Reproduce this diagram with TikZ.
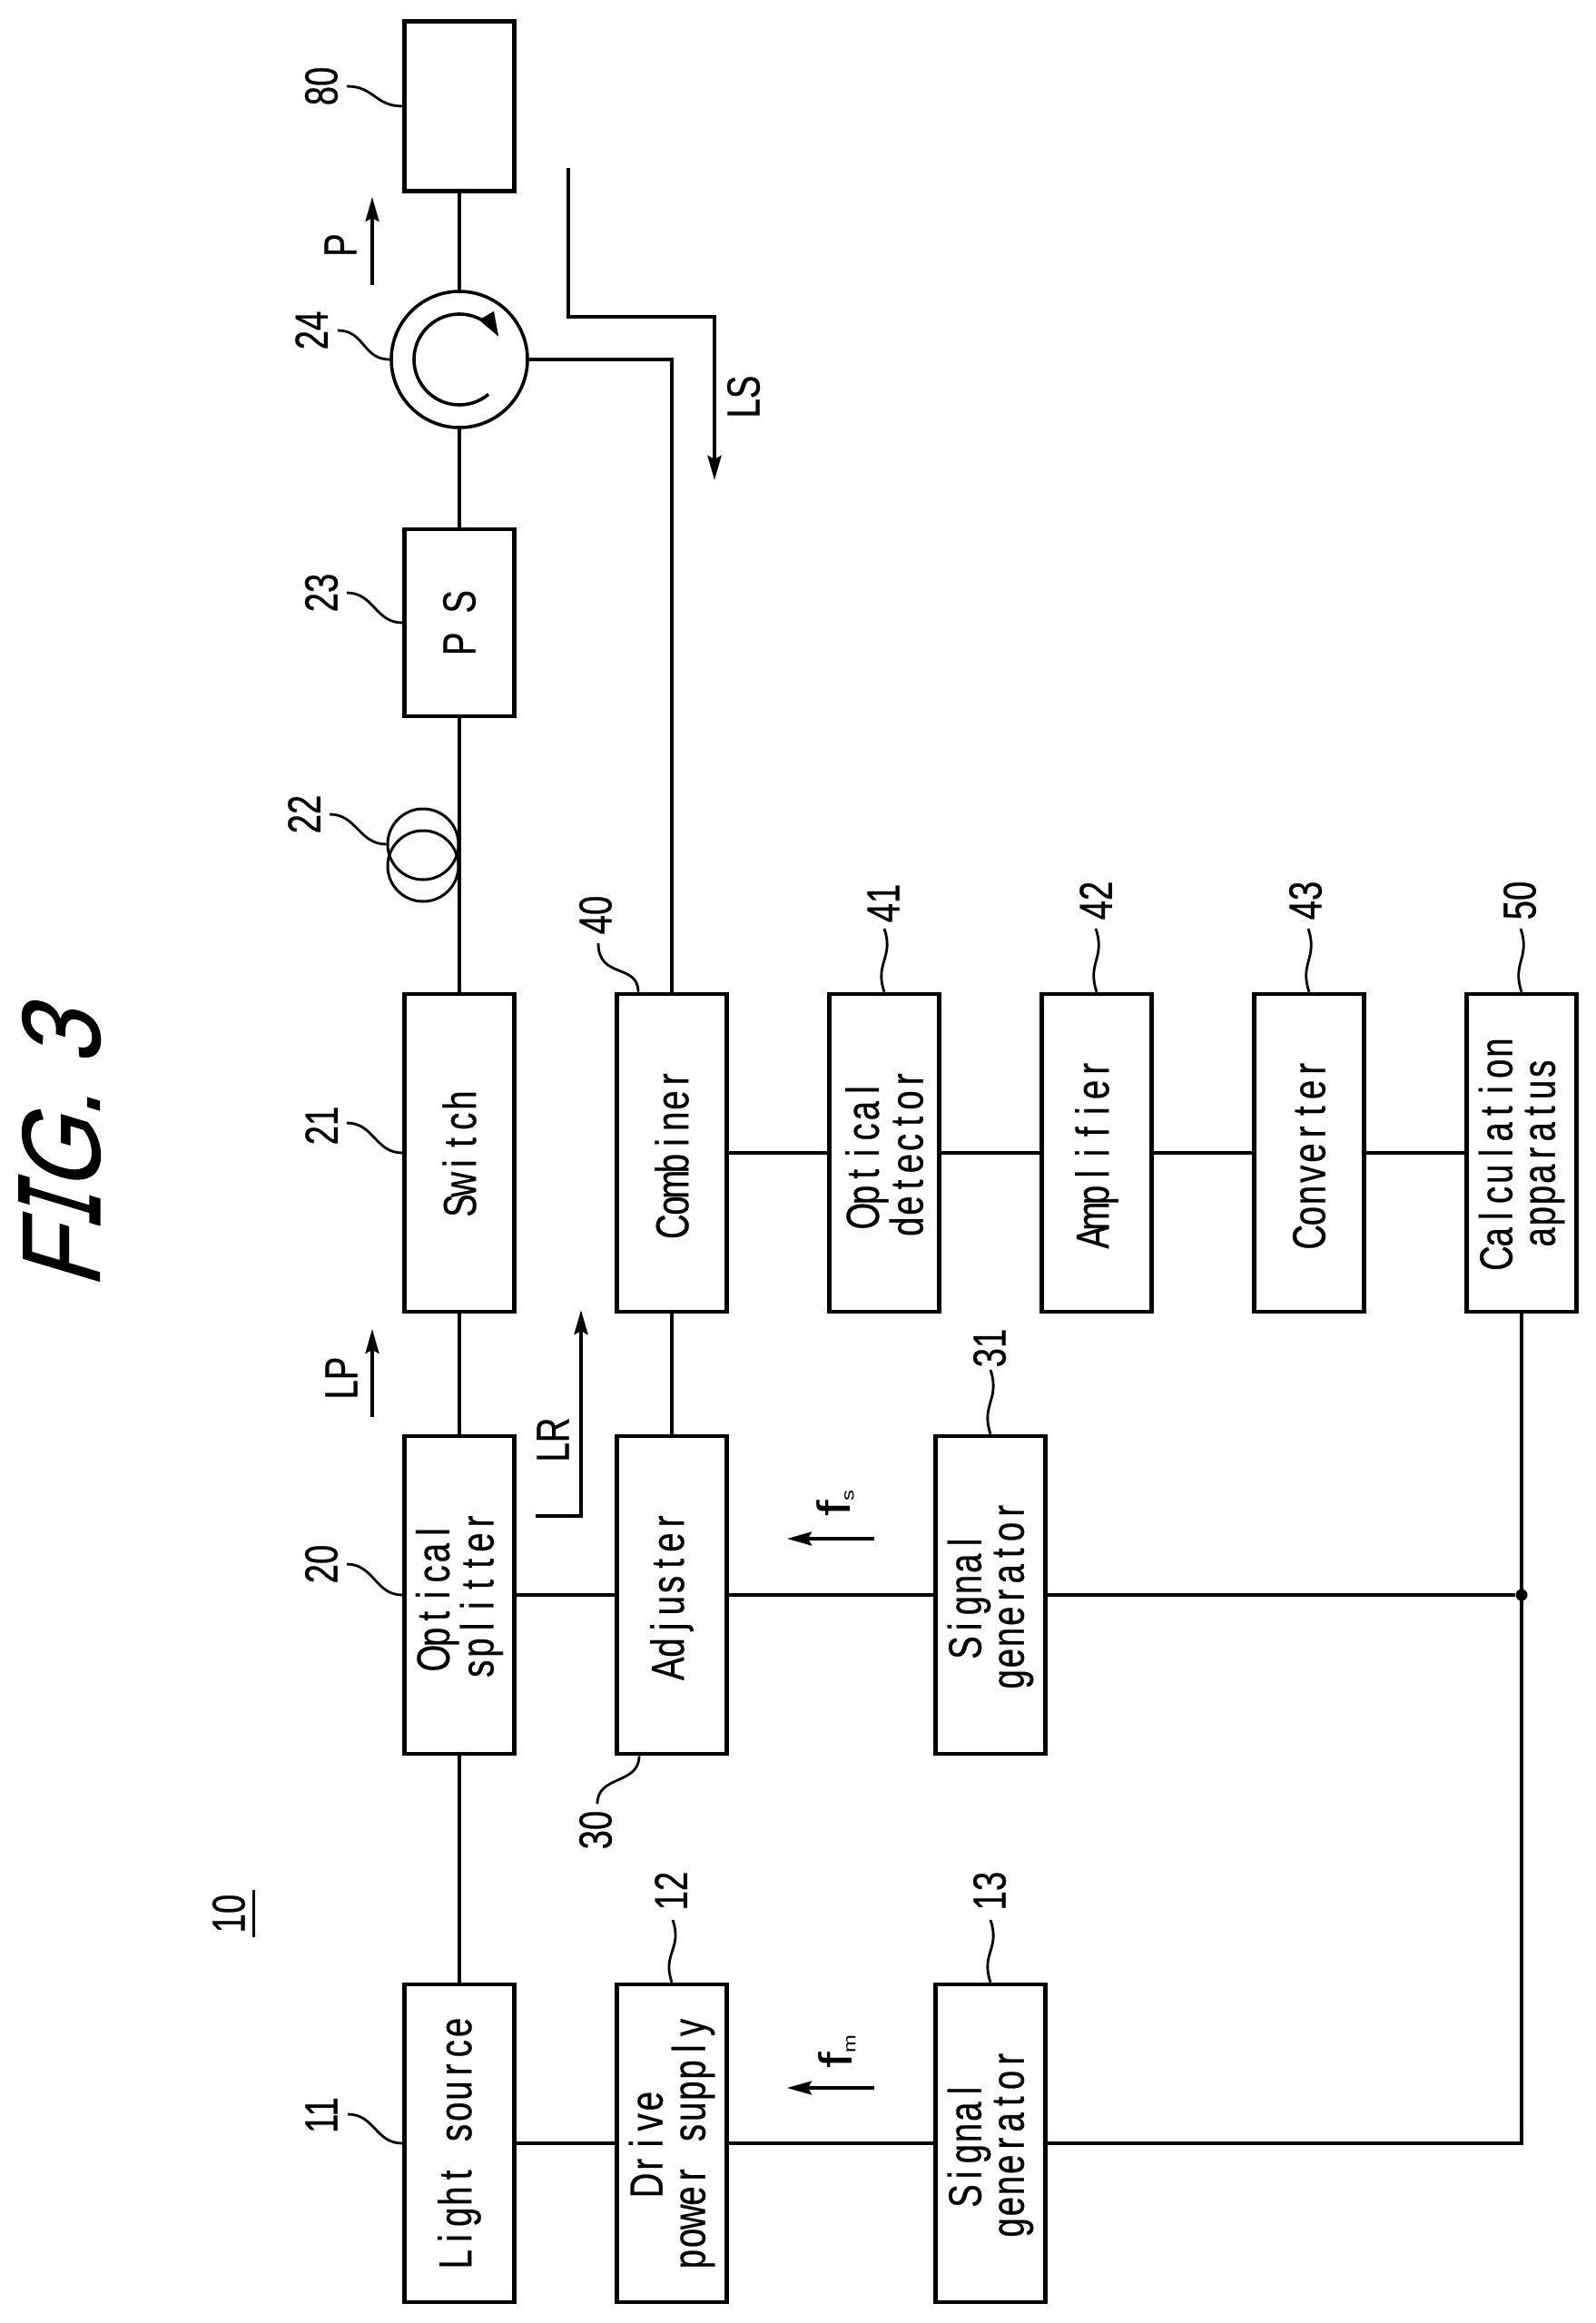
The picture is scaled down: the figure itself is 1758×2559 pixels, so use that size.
\documentclass[tikz,border=0pt]{standalone}
\usepackage{fontspec}
\setmainfont[FakeStretch=0.75,FakeBold=0.5]{Liberation Sans}
\newfontfamily\freqfont[FakeStretch=1.25]{Liberation Sans}
\newfontfamily\figfont[FakeStretch=0.86,FakeSlant=0.3,FakeBold=0.8]{Liberation Sans}
\newfontfamily\figstem[FakeStretch=0.52,FakeSlant=0.3,FakeBold=1.6]{Liberation Mono}
\usetikzlibrary{arrows.meta}
\usetikzlibrary{positioning}
\tikzset{
	block/.style = {draw, line width = 4.6pt, rotate = 90, align = center, inner sep = 0pt, minimum height = 121pt, minimum width = 350pt, font = \fontsize{51}{47}\selectfont},
	num/.style = {rotate = 90, inner sep = 0pt, font = \fontsize{51}{47}\selectfont},
	wire/.style = {line width = 4.4pt},
	leader/.style = {line width = 2.8pt},
	flow/.style = {line width = 3.4pt, -{Stealth[length = 27pt, width = 15pt, inset = 4pt]}},
	ring/.style = {draw, circle, inner sep = 0pt, line width = 3.6pt}
}
\newcommand{\sideleader}[2]{\draw[leader] (#1) .. controls +(30,0) and +(-30,0) .. (#2);}
\newcommand{\upleader}[2]{\draw[leader] (#1) .. controls +(11,32) and +(-11,-32) .. (#2);}
% letters of the box texts sit in cells of one width
\def\pitchloop#1{\ifx#1\relax\else\makebox[23.2pt]{#1}\expandafter\pitchloop\fi}
\def\pitchwords#1 #2\relax{\pitchloop#1\relax\ifx\relax#2\relax\else\hspace{23.2pt}\pitchwords#2\relax\fi}
\newcommand{\pitched}[1]{\pitchwords#1 \relax}
\begin{document}
\begin{tikzpicture}[x = 1pt, y = -1pt]
	\useasboundingbox (0,0) rectangle (1758,2559);

	% title
	\node[rotate = 90, inner sep = 0pt, font = \fontsize{122}{122}\selectfont\figfont] (title) at (66,1268) {F{\fontsize{134}{122}\selectfont\figstem I}G. 3};

	% optical path
	\node[block, minimum width = 187pt] (sink) at (506,117) {};
	\node[ring, minimum size = 150pt] (circulator) at (506,396) {};
	\node[block, minimum width = 206pt] (phase) at (506,686) {\pitched{P S}};
	\node[block] (switch) at (506,1270) {\pitched{Switch}};
	\node[block] (splitter) at (506,1757) {\pitched{Optical}\\\pitched{splitter}};
	\node[block] (source) at (506,2361) {\pitched{Light source}};

	% reference path
	\node[block] (combiner) at (740,1270) {\pitched{Combiner}};
	\node[block] (adjuster) at (740,1757) {\pitched{Adjuster}};
	\node[block] (drive) at (740,2361) {\pitched{Drive}\\\pitched{power supply}};

	% signal generators
	\node[block] (gens) at (1091,1757) {\pitched{Signal}\\\pitched{generator}};
	\node[block] (genm) at (1091,2361) {\pitched{Signal}\\\pitched{generator}};

	% detection
	\node[block] (detector) at (974,1270) {\pitched{Optical}\\\pitched{detector}};
	\node[block] (amplifier) at (1208,1270) {\pitched{Amplifier}};
	\node[block] (converter) at (1442,1270) {\pitched{Converter}};
	\node[block] (calc) at (1676,1270) {\pitched{Calculation}\\\pitched{apparatus}};
	\node[circle, fill, inner sep = 0pt, minimum size = 13pt] (joint) at (calc |- splitter) {};

	% fibre loop
	\node[ring, minimum size = 78pt, line width = 3pt] (loopa) at (466,930) {};
	\node[ring, minimum size = 78pt, line width = 3pt] (loopb) at (466,954) {};

	\draw[wire] (sink.west) -- (circulator.north);
	\draw[wire] (circulator.south) -- (phase.east);
	\draw[wire] (phase.west) -- (switch.east);
	\draw[wire] (switch.west) -- (splitter.east);
	\draw[wire] (splitter.west) -- (source.east);
	\draw[wire] (circulator.east) -| (combiner.east);
	\draw[wire] (combiner.west) -- (adjuster.east);
	\draw[wire] (combiner.south) -- (detector.north);
	\draw[wire] (detector.south) -- (amplifier.north);
	\draw[wire] (amplifier.south) -- (converter.north);
	\draw[wire] (converter.south) -- (calc.north);
	\draw[wire] (splitter.south) -- (adjuster.north);
	\draw[wire] (adjuster.south) -- (gens.north);
	\draw[wire] (gens.south) -- (joint);
	\draw[wire] (source.south) -- (drive.north);
	\draw[wire] (drive.south) -- (genm.north);
	\draw[wire] (calc.west) |- (genm.south);

	% arrow inside the circulator
	\draw[line width = 3.6pt, -{Stealth[length = 27pt, width = 18pt, inset = 0pt]}] (circulator.center) ++(-50:50pt) arc[start angle = -50, end angle = -330, radius = 50pt];

	% light arrows
	\coordinate (ptail) at (410,314);
	\coordinate (ptip) at (410,217);
	\coordinate (lptail) at (410,1561);
	\coordinate (lptip) at (410,1464);
	\coordinate (lsstart) at (626,185);
	\coordinate (lscorner) at (787,349);
	\coordinate (lstip) at (787,529);
	\coordinate (lrstart) at (590,1670);
	\coordinate (lrtip) at (640,1443);
	\coordinate (fstail) at (963,1695);
	\coordinate (fstip) at (867,1695);
	\coordinate (fmtail) at (963,2300);
	\coordinate (fmtip) at (867,2300);
	\draw[flow] (ptail) -- (ptip);
	\draw[flow] (lptail) -- (lptip);
	\draw[flow, line width = 4.2pt] (lsstart) |- (lscorner) -- (lstip);
	\draw[flow, line width = 4.2pt] (lrstart) -| (lrtip);
	\draw[flow] (fstail) -- (fstip);
	\draw[flow] (fmtail) -- (fmtip);

	% texts on the arrows
	\node[num] (labelp) at (375,270) {P};
	\node[num] (labellp) at (376,1518) {LP};
	\node[num] (labells) at (819,437) {LS};
	\node[num] (labellr) at (609,1586) {LR};
	\node[num] (labelfs) at (920,1656) {\freqfont f\raisebox{-4pt}{\fontsize{19}{19}\selectfont s}};
	\node[num] (labelfm) at (922,2260) {\freqfont f\raisebox{-4pt}{\fontsize{19}{19}\selectfont m}};

	% reference numbers
	\node[num] (ref10) at (252,2108) {10};
	\draw[leader] ([xshift = 9pt, yshift = 5pt]ref10.south east) -- ([xshift = 9pt, yshift = -5pt]ref10.south west);
	\node[num] (ref80) at (354,95) {80};
	\node[num] (ref24) at (343,364) {24};
	\node[num] (ref23) at (354,653) {23};
	\node[num] (ref22) at (335,897) {22};
	\node[num] (ref21) at (354,1240) {21};
	\node[num] (ref20) at (354,1723) {20};
	\node[num] (ref11) at (354,2330) {11};
	\node[num] (ref40) at (656,1008) {40};
	\node[num] (ref30) at (656,2016) {30};
	\node[num] (ref12) at (739,2083) {12};
	\node[num] (ref41) at (973,995) {41};
	\node[num] (ref31) at (1090,1485) {31};
	\node[num] (ref13) at (1090,2083) {13};
	\node[num] (ref42) at (1207,992) {42};
	\node[num] (ref43) at (1438,992) {43};
	\node[num] (ref50) at (1674,992) {50};

	% leader lines
	\coordinate (from80) at (382,95);
	\coordinate (from24) at (372,364);
	\coordinate (from23) at (382,653);
	\coordinate (from22) at (363,897);
	\coordinate (from21) at (382,1237);
	\coordinate (from20) at (382,1723);
	\coordinate (from11) at (383,2329);
	\coordinate (from40) at (659,1039);
	\coordinate (from41) at (974,1023);
	\coordinate (from42) at (1207,1023);
	\coordinate (from43) at (1441,1023);
	\coordinate (from50) at (1675,1023);
	\coordinate (from31) at (1091,1509);
	\coordinate (from12) at (741,2115);
	\coordinate (from13) at (1091,2115);
	\coordinate (from30) at (658,1987);
	\sideleader{from80}{sink.north}
	\sideleader{from24}{circulator.west}
	\sideleader{from23}{phase.north}
	\sideleader{from22}{loopa.west}
	\sideleader{from21}{switch.north}
	\sideleader{from20}{splitter.north}
	\sideleader{from11}{source.north}
	\upleader{from41}{detector.east}
	\upleader{from42}{amplifier.east}
	\upleader{from43}{converter.east}
	\upleader{from50}{calc.east}
	\upleader{from31}{gens.east}
	\upleader{from12}{drive.east}
	\upleader{from13}{genm.east}
	\draw[leader] (from40) .. controls +(0,40) and +(0,-32) .. ([xshift = -37pt]combiner.east);
	\draw[leader] ([xshift = -36pt]adjuster.west) .. controls +(0,32) and +(0,-32) .. (from30);
\end{tikzpicture}
\end{document}
